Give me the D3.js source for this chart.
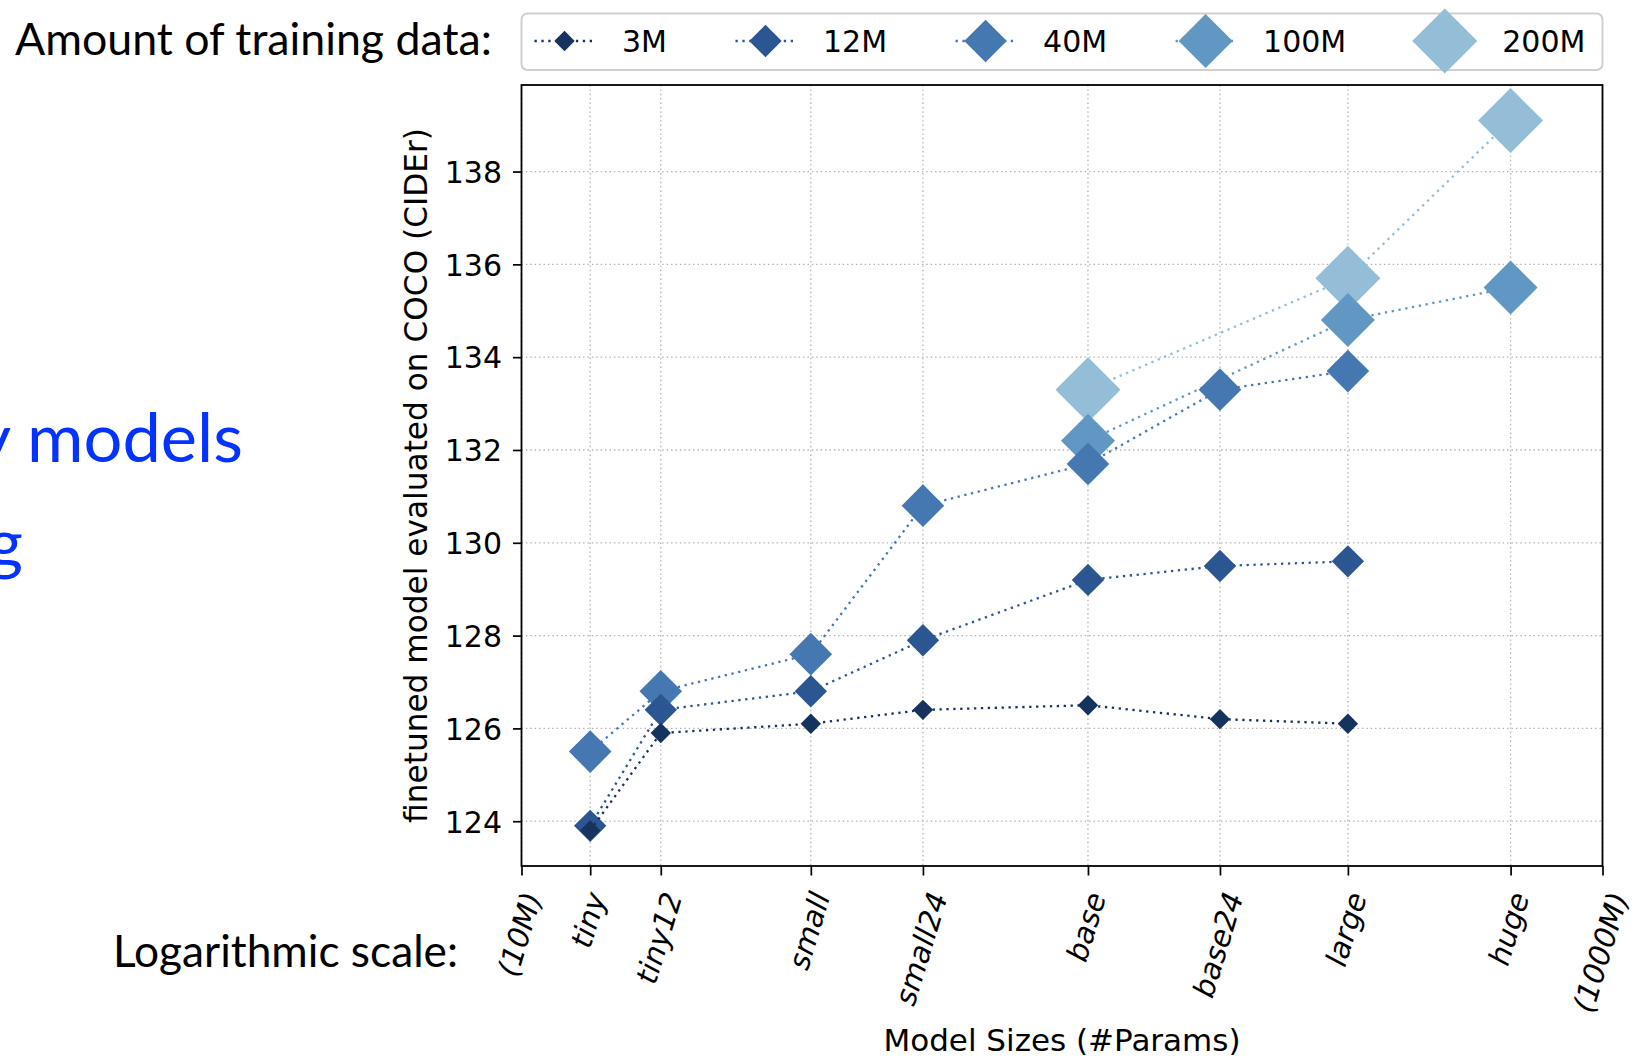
<!DOCTYPE html>
<html>
<head>
<meta charset="utf-8">
<script src="https://cdn.jsdelivr.net/npm/d3@7"></script>
<style>
  html, body { margin: 0; padding: 0; background: #ffffff; }
  svg { display: block; }
</style>
</head>
<body>
<svg id="chart" width="1635" height="1058"></svg>
<script>
// ---------------- DATA ----------------
const modelNames = ["tiny", "tiny12", "small", "small24", "base", "base24", "large", "huge"];
const modelParamsM = [13.4, 18.1, 34.3, 55.3, 111.7, 196, 338, 676];
const axisEndLabels = ["(10M)", "(1000M)"];
const axisEndValuesM = [10, 1000];
const yTickValues = [124, 126, 128, 130, 132, 134, 136, 138];

const seriesNames = ["3M", "12M", "40M", "100M", "200M"];
const models3M   = ["tiny", "tiny12", "small", "small24", "base", "base24", "large"];
const cider3M    = [123.8, 125.9, 126.1, 126.4, 126.5, 126.2, 126.1];
const models12M  = ["tiny", "tiny12", "small", "small24", "base", "base24", "large"];
const cider12M   = [123.9, 126.4, 126.8, 127.9, 129.2, 129.5, 129.6];
const models40M  = ["tiny", "tiny12", "small", "small24", "base", "base24", "large"];
const cider40M   = [125.5, 126.8, 127.6, 130.8, 131.7, 133.3, 133.7];
const models100M = ["base", "large", "huge"];
const cider100M  = [132.2, 134.8, 135.5];
const models200M = ["base", "large", "huge"];
const cider200M  = [133.3, 135.7, 139.1];

// ---------------- STYLE ----------------
const seriesColors = ["#16325f", "#2c5692", "#4577b0", "#6098c3", "#94bdd7"];
const markerHalf   = [10.2, 16.2, 21.3, 27, 32.5];

// ---------------- BUILD ----------------
const sizeOf = {};
modelNames.forEach((n, i) => sizeOf[n] = modelParamsM[i]);
const seriesModels = [models3M, models12M, models40M, models100M, models200M];
const seriesValues = [cider3M, cider12M, cider40M, cider100M, cider200M];
const series = seriesNames.map((name, i) => ({
  name, color: seriesColors[i], r: markerHalf[i],
  points: seriesModels[i].map((m, j) => ({ size: sizeOf[m], v: seriesValues[i][j] }))
}));

const svg = d3.select("#chart");
const P = { left: 521.5, right: 1602.5, top: 85, bottom: 866 };

const allVals = seriesValues.flat();
const [vmin, vmax] = d3.extent(allVals);
const pad = (vmax - vmin) * 0.05;
const x = d3.scaleLog().domain([axisEndValuesM[0], axisEndValuesM[1]]).range([P.left, P.right]);
const y = d3.scaleLinear().domain([vmin - pad, vmax + pad]).range([P.bottom, P.top]);

const xTickVals = [axisEndValuesM[0], ...modelParamsM, axisEndValuesM[1]];
const xTickLabs = [axisEndLabels[0], ...modelNames, axisEndLabels[1]];

// grid
const grid = svg.append("g");
grid.selectAll("line.gx").data(xTickVals).join("line")
  .attr("x1", d => x(d)).attr("x2", d => x(d))
  .attr("y1", P.top).attr("y2", P.bottom)
  .attr("stroke", "#b0b0b0").attr("stroke-width", 1.3).attr("stroke-dasharray", "1.4,3");
grid.selectAll("line.gy").data(yTickValues).join("line")
  .attr("x1", P.left).attr("x2", P.right)
  .attr("y1", d => y(d)).attr("y2", d => y(d))
  .attr("stroke", "#b0b0b0").attr("stroke-width", 1.3).attr("stroke-dasharray", "1.4,3");

// series (drawn in reverse so smallest data amount is on top)
const line = d3.line().x(d => x(d.size)).y(d => y(d.v));
const diamond = r => `M0,${-r}L${r},0L0,${r}L${-r},0Z`;
const plotG = svg.append("g");
series.slice().reverse().forEach(s => {
  const g = plotG.append("g");
  g.append("path").datum(s.points).attr("d", line)
    .attr("fill", "none").attr("stroke", s.color)
    .attr("stroke-width", 2.3).attr("stroke-dasharray", "2.3,4.6");
  g.selectAll("path.m").data(s.points).join("path")
    .attr("class", "m")
    .attr("transform", d => `translate(${x(d.size)},${y(d.v)})`)
    .attr("d", diamond(s.r)).attr("fill", s.color);
});

// axes
const yAxis = svg.append("g").attr("transform", `translate(${P.left},0)`)
  .call(d3.axisLeft(y).tickValues(yTickValues).tickSize(8.5).tickPadding(11).tickFormat(d3.format("d")));
yAxis.select(".domain").remove();
yAxis.selectAll(".tick line").attr("stroke", "#000").attr("stroke-width", 1.7);
yAxis.selectAll(".tick text").attr("font-family", "DejaVu Sans").attr("font-size", 30)
  .attr("fill", "#000").attr("dy", "0.36em");

const xAxis = svg.append("g").attr("transform", `translate(0,${P.bottom})`)
  .call(d3.axisBottom(x).tickValues(xTickVals).tickSize(9.5).tickFormat((d, i) => xTickLabs[i]));
xAxis.select(".domain").remove();
xAxis.selectAll(".tick line").attr("stroke", "#000").attr("stroke-width", 1.7);
const ang = 73, rad = ang * Math.PI / 180;
const xfs = 29.5;
xAxis.selectAll(".tick text").each(function () {
  const t = d3.select(this);
  t.attr("font-family", "DejaVu Sans").attr("font-style", "italic").attr("font-size", xfs)
    .attr("fill", "#000").attr("text-anchor", "middle").attr("dominant-baseline", "central")
    .attr("dy", null).attr("y", 0);
  const w = this.getComputedTextLength();
  const h = xfs * 0.78;
  const halfH = (w * Math.sin(rad) + h * Math.cos(rad)) / 2;
  t.attr("transform", `translate(-2,${890 - P.bottom + halfH}) rotate(${-ang})`);
});

// frame
svg.append("rect").attr("x", P.left).attr("y", P.top)
  .attr("width", P.right - P.left).attr("height", P.bottom - P.top)
  .attr("fill", "none").attr("stroke", "#000").attr("stroke-width", 1.8);

// axis titles
svg.append("text").attr("transform", `translate(416,${(P.top + P.bottom) / 2}) rotate(-90)`)
  .attr("text-anchor", "middle").attr("dominant-baseline", "central")
  .attr("font-family", "DejaVu Sans").attr("font-size", 31.2).attr("fill", "#000")
  .text("finetuned model evaluated on COCO (CIDEr)");
svg.append("text").attr("x", (P.left + P.right) / 2).attr("y", 1051)
  .attr("text-anchor", "middle")
  .attr("font-family", "DejaVu Sans").attr("font-size", 31).attr("fill", "#000")
  .text("Model Sizes (#Params)");

// legend
const lg = svg.append("g");
lg.append("rect").attr("x", P.left).attr("y", 13.5).attr("width", P.right - P.left).attr("height", 56.5)
  .attr("rx", 6).attr("fill", "#fff").attr("fill-opacity", 0.8)
  .attr("stroke", "#cfcfcf").attr("stroke-width", 2);
let cx = P.left + 13;
const ly = 41;
series.forEach(s => {
  const g = lg.append("g");
  g.append("line").attr("x1", cx).attr("x2", cx + 60).attr("y1", ly).attr("y2", ly)
    .attr("stroke", s.color).attr("stroke-width", 2.3).attr("stroke-dasharray", "2.3,4.6");
  g.append("path").attr("transform", `translate(${cx + 30},${ly})`).attr("d", diamond(s.r)).attr("fill", s.color);
  const t = g.append("text").attr("x", cx + 87.5).attr("y", ly).attr("dy", "0.36em")
    .attr("font-family", "DejaVu Sans").attr("font-size", 30).attr("fill", "#000").text(s.name);
  cx = cx + 87.5 + t.node().getComputedTextLength() + 68.5;
});

// slide text around the chart
function fitText(sel, targetW) {
  const w = sel.node().getComputedTextLength();
  const fs = parseFloat(sel.attr("font-size"));
  sel.attr("font-size", fs * targetW / w);
}
const amt = svg.append("text").attr("x", 15).attr("y", 55)
  .attr("font-family", "Lato").attr("font-size", 42).attr("fill", "#000")
  .text("Amount of training data:");
fitText(amt, 477);
const logt = svg.append("text").attr("x", 113).attr("y", 967)
  .attr("font-family", "Lato").attr("font-size", 42).attr("fill", "#000")
  .text("Logarithmic scale:");
fitText(logt, 345);

// partially visible blue slide text at left (cropped in the original as well)
const probe = svg.append("text").attr("font-family", "Lato").attr("font-size", 60).text("models");
const mw = probe.node().getComputedTextLength();
probe.remove();
const blueFs = 60 * 216 / mw;
svg.append("text").attr("x", 243).attr("y", 462).attr("text-anchor", "end")
  .attr("font-family", "Lato").attr("font-size", blueFs).attr("fill", "#0433ff")
  .text("ly models");
svg.append("text").attr("x", 23).attr("y", 567).attr("text-anchor", "end")
  .attr("font-family", "Lato").attr("font-size", blueFs).attr("fill", "#0433ff")
  .text("ng");
</script>
</body>
</html>
